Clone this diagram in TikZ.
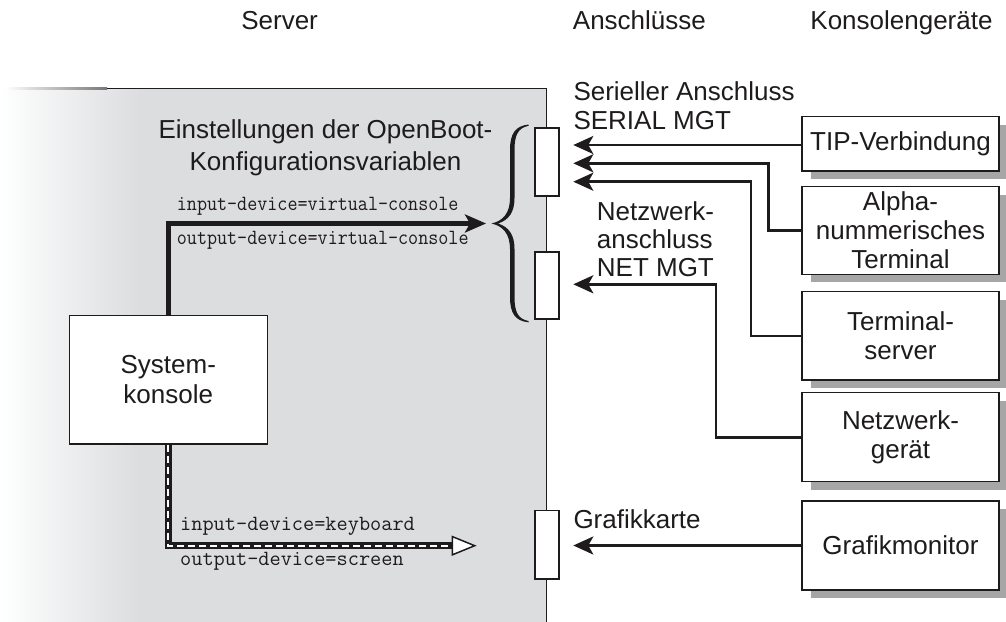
\documentclass[tikz,border=0pt]{standalone}
\usepackage{fontspec}
\setmainfont{Liberation Sans}
\usetikzlibrary{arrows.meta,shadows,calc}
\definecolor{srv}{RGB}{220,221,223}
\definecolor{ink}{RGB}{30,27,28}
\newcommand{\mylinesL}[1]{\vtop{\halign{##\hfil\cr#1\crcr}}}
\newcommand{\mylinesC}[1]{\vtop{\halign{\hfil##\hfil\cr#1\crcr}}}
\begin{document}
\begin{tikzpicture}[x=1pt,y=-1pt,
  txt/.style={font=\fontsize{26}{29}\selectfont, text=ink, inner sep=0pt},
  mono/.style={font=\fontsize{21.7}{24}\selectfont\ttfamily\addfontfeatures{FakeBold=0.6}, text=ink, inner sep=0pt},
  port/.style={draw=ink, fill=white, line width=1.3pt, minimum width=24pt, inner sep=0pt},
  dev/.style={draw=ink, fill=white, line width=1.3pt, minimum width=197pt, inner sep=0pt,
    align=center, text=ink, font=\fontsize{26}{29}\selectfont,
    drop shadow={shadow xshift=9pt, shadow yshift=-8pt, fill=black!35, opacity=1}},
  conn/.style={draw=ink, line width=2.6pt, -{Stealth[length=20pt,width=18pt,inset=5pt]}},
]
\useasboundingbox (0,0) rectangle (1006,621);
% server area
\fill[srv] (0,88.3) rectangle (546.7,625);
\shade[left color=white, right color=srv] (0,88.3) rectangle (140,625);
\shade[left color=white, right color=ink!60] (5,87.6) rectangle (107,89);
\draw[ink, line width=1.5pt] (107,88.3) -- (546.7,88.3) -- (546.7,625);

% headers
\node[txt, anchor=base] (hserver) at (279.6,29.3) {Server};
\node[txt, anchor=base] (hports) at (639.4,29.3) {Anschlüsse};
\node[txt, anchor=base] (hdev) at (901.5,29.3) {Konsolengeräte};

% ports
\node[port, minimum height=68pt] (ser) at (547,162) {};
\node[port, minimum height=67pt] (net) at (547,285.5) {};
\node[port, minimum height=68.3pt] (gfx) at (547,544.9) {};

% port labels
\node[txt, anchor=base west] (lser) at (573.3,100.7) {\mylinesL{Serieller Anschluss\cr SERIAL MGT}};
\node[txt, anchor=base west, font=\fontsize{26}{28}\selectfont] (lnet) at (596.7,220.7) {\mylinesL{Netzwerk-\cr anschluss\cr NET MGT}};
\node[txt, anchor=base west] (lgfx) at (573.3,528.3) {Grafikkarte};

% brace (tapered, filled)
\fill[ink]
  (528.5,124.5) .. controls (515,126) and (510,134) .. (510,150) -- (510,198)
  .. controls (510,213) and (503,221) .. (491.5,223.5)
  .. controls (503,226) and (510,234) .. (510,249) -- (510,297)
  .. controls (510,313) and (515,321) .. (528.5,322.3)
  -- (528.5,321)
  .. controls (518,319) and (514.5,312) .. (514.5,297) -- (514.5,249)
  .. controls (514.5,235) and (509,227) .. (498,223.5)
  .. controls (509,220) and (514.5,212) .. (514.5,198) -- (514.5,150)
  .. controls (514.5,135) and (518,128) .. (528.5,125.8) -- cycle;

% OpenBoot label
\node[txt, anchor=base, font=\fontsize{26}{31.7}\selectfont] (lob) at (325.5,138.3)
  {\mylinesC{Einstellungen der OpenBoot-\cr Konfigurationsvariablen}};

% system console
\node[draw=ink, fill=white, line width=1.3pt, minimum width=198pt, minimum height=128.3pt,
  align=center, text=ink, font=\fontsize{26}{30}\selectfont, inner sep=0pt] (con) at (168.3,379.85) {System-\\konsole};

% devices
\node[dev, minimum height=54.3pt] (tip) at (900.5,143.85) {TIP-Verbindung};
\node[dev, minimum height=87.6pt] (alpha) at (900.5,230.5) {Alpha-\\nummerisches\\Terminal};
\node[dev, minimum height=88.3pt] (term) at (900.5,335.85) {Terminal-\\server};
\node[dev, minimum height=89pt] (netz) at (900.5,437.2) {Netzwerk-\\gerät};
\node[dev, minimum height=89pt] (graf) at (900.5,545.5) {Grafikmonitor};

% arrow end points
\coordinate (sA) at (573.3,145);
\coordinate (sB) at (573.3,163.3);
\coordinate (sC) at (573.3,181.7);
\coordinate (nA) at (573.3,284.3);
\coordinate (gA) at (573.3,545.5);

\draw[conn] (tip.west |- sA) -- (sA);
\draw[conn] (alpha.west) -- ++(-32.7,0) |- (sB);
\draw[conn] (term.west) -- ++(-50.3,0) |- (sC);
\draw[conn] (netz.west) -- ++(-85.3,0) |- (nA);
\draw[conn] (graf.west) -- (gA);

% virtual console path
\coordinate (bt) at (486,223.5);
\draw[ink, line width=4.6pt, -{Stealth[length=21pt,width=18pt,inset=5pt]}] (con.north) |- (bt);
\node[mono, anchor=west] (vin) at (176.7,206.7) {\scalebox{0.9}[1]{input-device=virtual-console}};
\node[mono, anchor=west] (vout) at (176.7,240) {\scalebox{0.9}[1]{output-device=virtual-console}};

% keyboard/screen path
\coordinate (dt) at (476.7,545.7);
\draw[ink, line width=6.5pt, -{Triangle[fill=white, length=25pt, width=20pt, line width=1.5pt]}] (con.south) |- (dt);
\draw[white, line width=2pt, dash pattern=on 7pt off 4pt, shorten >=25pt] (con.south) |- (dt);
\node[mono, anchor=west] (kin) at (180,526) {input-device=keyboard};
\node[mono, anchor=west] (kout) at (180,561.7) {output-device=screen};
\end{tikzpicture}
\end{document}
